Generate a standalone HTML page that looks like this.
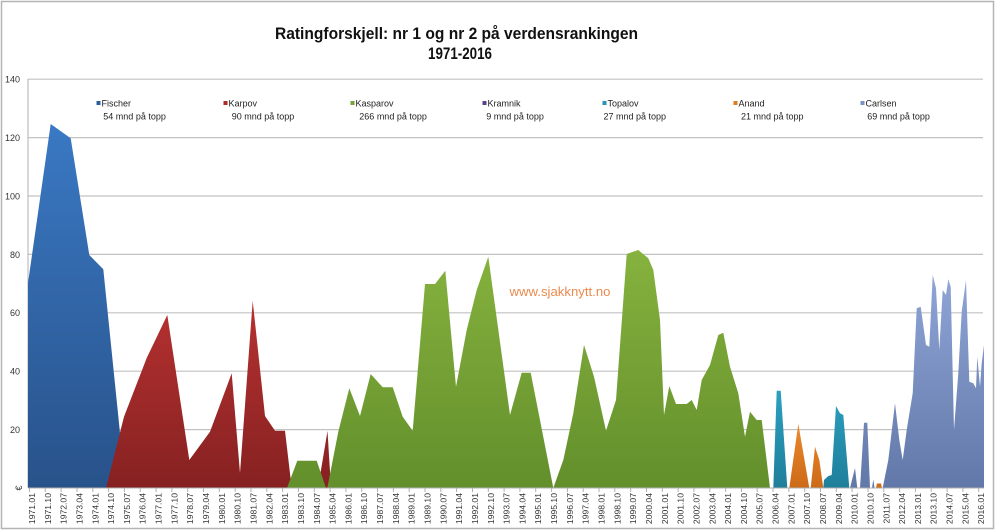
<!DOCTYPE html>
<html><head><meta charset="utf-8">
<style>
html,body{margin:0;padding:0;background:#fff;}
svg{display:block;}
text{font-family:"Liberation Sans",sans-serif;}
</style></head>
<body>
<svg width="996" height="532" viewBox="0 0 996 532" xmlns="http://www.w3.org/2000/svg">
<defs>
<linearGradient id="gB" gradientUnits="userSpaceOnUse" x1="0" y1="120" x2="0" y2="488"><stop offset="0" stop-color="#3a79c4"/><stop offset="1" stop-color="#28528a"/></linearGradient>
<linearGradient id="gR" gradientUnits="userSpaceOnUse" x1="0" y1="290" x2="0" y2="488"><stop offset="0" stop-color="#b93232"/><stop offset="1" stop-color="#862121"/></linearGradient>
<linearGradient id="gG" gradientUnits="userSpaceOnUse" x1="0" y1="250" x2="0" y2="488"><stop offset="0" stop-color="#86b23e"/><stop offset="1" stop-color="#638f2c"/></linearGradient>
<linearGradient id="gT" gradientUnits="userSpaceOnUse" x1="0" y1="390" x2="0" y2="488"><stop offset="0" stop-color="#2aa0c0"/><stop offset="1" stop-color="#1f7f9a"/></linearGradient>
<linearGradient id="gO" gradientUnits="userSpaceOnUse" x1="0" y1="420" x2="0" y2="488"><stop offset="0" stop-color="#ee8a2c"/><stop offset="1" stop-color="#cc6a18"/></linearGradient>
<linearGradient id="gC" gradientUnits="userSpaceOnUse" x1="0" y1="270" x2="0" y2="488"><stop offset="0" stop-color="#90a6d8"/><stop offset="1" stop-color="#6178a8"/></linearGradient>
</defs>
<rect x="1.5" y="1.5" width="992" height="527" fill="#fff" stroke="#b4b4b4" stroke-width="1.5"/>

<!-- title -->
<text x="456.5" y="39" font-size="16.5" font-weight="bold" text-anchor="middle" fill="#111" textLength="363" lengthAdjust="spacingAndGlyphs">Ratingforskjell: nr 1 og nr 2 på verdensrankingen</text>
<text x="460" y="59" font-size="16.5" font-weight="bold" text-anchor="middle" fill="#111" textLength="64" lengthAdjust="spacingAndGlyphs">1971-2016</text>

<!-- gridlines -->
<g stroke="#c2c2c2" stroke-width="1.2">
<line x1="28" y1="79.2" x2="983" y2="79.2"/>
<line x1="28" y1="137.6" x2="983" y2="137.6"/>
<line x1="28" y1="196" x2="983" y2="196"/>
<line x1="28" y1="254.4" x2="983" y2="254.4"/>
<line x1="28" y1="312.8" x2="983" y2="312.8"/>
<line x1="28" y1="371.2" x2="983" y2="371.2"/>
<line x1="28" y1="429.6" x2="983" y2="429.6"/>
</g>
<line x1="28" y1="79" x2="28" y2="488" stroke="#b0b0b0" stroke-width="1"/>

<!-- y labels -->
<g font-size="9" fill="#333" text-anchor="end">
<text x="20" y="82.5">140</text>
<text x="20" y="141">120</text>
<text x="20" y="199.5">100</text>
<text x="20" y="258">80</text>
<text x="20" y="316">60</text>
<text x="20" y="374.5">40</text>
<text x="20" y="433">20</text>
<text transform="translate(22,488) rotate(-90)" x="0" y="0" text-anchor="middle">€</text>
</g>

<!-- series -->
<path fill="url(#gB)" d="M28,488 L28,283 L50.7,124 L70.7,138.3 L89.3,255 L103.3,269.3 L120,433 L125,488 Z"/>
<path fill="url(#gR)" d="M106,488 L124,416.7 L146.7,358 L167.3,315 L189.3,460 L210,431.7 L231.7,373.3 L240,473 L252.7,300.7 L265,416 L275,430.7 L285,430.7 L291.7,488 Z"/>
<path fill="url(#gR)" d="M318,488 L327.5,431 L331,488 Z"/>
<path fill="url(#gG)" d="M287,488 L297.3,460.7 L316.7,460.7 L326,488 Z"/>
<path fill="url(#gG)" d="M327.3,488 L338.3,431.7 L349.3,388.3 L360,416 L370.7,374 L382.7,387.3 L392.7,387.3 L402.7,416.7 L412.7,430.7 L425,284 L435,284 L445.3,270.7 L456,386.7 L466.7,330 L476.7,290 L488.3,256.7 L510,415 L521.7,372.7 L530.7,372.7 L553.3,488 Z"/>
<path fill="url(#gG)" d="M553.3,488 L563.3,460 L573.3,413.3 L584,345 L594,376.7 L606,430.7 L616,400 L626.7,254 L638.3,250 L648.3,258.3 L653.3,270 L660,320 L664,415 L669.3,386 L676,404 L686.7,404 L691.7,400 L696.7,410 L701.7,380 L710,365 L718.3,335 L723.3,332.7 L730,366.7 L738.3,393.3 L745,436.7 L750,411.7 L756.7,420 L761.7,420 L770,488 Z"/>
<path fill="url(#gT)" d="M773.3,488 L776.7,390.7 L780.7,390.7 L787.3,488 Z"/>
<path fill="url(#gO)" d="M789.3,488 L798.3,424 L809.3,488 Z"/>
<path fill="url(#gO)" d="M810.7,488 L815,446.7 L819.3,460 L823.3,488 Z"/>
<path fill="url(#gT)" d="M823.3,488 L824,480 L828.3,476 L831.7,475 L836,406 L840,413.3 L843.3,415 L849.3,488 Z"/>
<path fill="url(#gC)" d="M850,488 L855,468 L857.3,488 Z"/>
<path fill="url(#gC)" d="M860,488 L864,422.7 L867.3,422.7 L870,488 Z"/>
<path fill="url(#gC)" d="M872,488 L873.3,479.3 L874.5,488 Z"/>
<path fill="url(#gO)" d="M876,488 L877,483.5 L881,483.5 L882,488 Z"/>
<path fill="url(#gC)" d="M882.7,488 L888.3,460 L895,403.3 L899.3,440 L902.7,460 L906.7,430 L912.7,393.3 L916.7,308.3 L920.7,306.7 L926,345 L929.3,346.7 L932.7,275 L936,288.3 L939.3,350 L942.7,290 L946,295 L948.3,279.3 L950.7,286.7 L954,430 L958.3,373.3 L961.7,311.7 L966,280 L969.3,381.7 L973.3,383.3 L976,388.3 L977.3,356.7 L980,386.7 L981.7,363.3 L984,345 L984,488 Z"/>

<!-- x axis -->
<line x1="28" y1="488" x2="984" y2="488" stroke="#b0b0b0" stroke-width="1"/>
<g stroke="#b0b0b0" stroke-width="1">
<path d="M29.5,488v4 M45.3,488v4 M61.1,488v4 M77,488v4 M92.8,488v4 M108.6,488v4 M124.4,488v4 M140.2,488v4 M156.1,488v4 M171.9,488v4 M187.7,488v4 M203.5,488v4 M219.3,488v4 M235.2,488v4 M251,488v4 M266.8,488v4 M282.6,488v4 M298.4,488v4 M314.3,488v4 M330.1,488v4 M345.9,488v4 M361.7,488v4 M377.5,488v4 M393.4,488v4 M409.2,488v4 M425,488v4 M440.8,488v4 M456.6,488v4 M472.5,488v4 M488.3,488v4 M504.1,488v4 M519.9,488v4 M535.7,488v4 M551.6,488v4 M567.4,488v4 M583.2,488v4 M599,488v4 M614.8,488v4 M630.7,488v4 M646.5,488v4 M662.3,488v4 M678.1,488v4 M693.9,488v4 M709.8,488v4 M725.6,488v4 M741.4,488v4 M757.2,488v4 M773,488v4 M788.9,488v4 M804.7,488v4 M820.5,488v4 M836.3,488v4 M852.1,488v4 M868,488v4 M883.8,488v4 M899.6,488v4 M915.4,488v4 M931.2,488v4 M947.1,488v4 M962.9,488v4 M978.7,488v4"/>
</g>
<g font-size="8.6" fill="#333" text-anchor="end">
<text transform="translate(35,493) rotate(-90)">1971.01</text>
<text transform="translate(50.8,493) rotate(-90)">1971.10</text>
<text transform="translate(66.6,493) rotate(-90)">1972.07</text>
<text transform="translate(82.5,493) rotate(-90)">1973.04</text>
<text transform="translate(98.3,493) rotate(-90)">1974.01</text>
<text transform="translate(114.1,493) rotate(-90)">1974.10</text>
<text transform="translate(129.9,493) rotate(-90)">1975.07</text>
<text transform="translate(145.7,493) rotate(-90)">1976.04</text>
<text transform="translate(161.6,493) rotate(-90)">1977.01</text>
<text transform="translate(177.4,493) rotate(-90)">1977.10</text>
<text transform="translate(193.2,493) rotate(-90)">1978.07</text>
<text transform="translate(209,493) rotate(-90)">1979.04</text>
<text transform="translate(224.8,493) rotate(-90)">1980.01</text>
<text transform="translate(240.7,493) rotate(-90)">1980.10</text>
<text transform="translate(256.5,493) rotate(-90)">1981.07</text>
<text transform="translate(272.3,493) rotate(-90)">1982.04</text>
<text transform="translate(288.1,493) rotate(-90)">1983.01</text>
<text transform="translate(303.9,493) rotate(-90)">1983.10</text>
<text transform="translate(319.8,493) rotate(-90)">1984.07</text>
<text transform="translate(335.6,493) rotate(-90)">1985.04</text>
<text transform="translate(351.4,493) rotate(-90)">1986.01</text>
<text transform="translate(367.2,493) rotate(-90)">1986.10</text>
<text transform="translate(383,493) rotate(-90)">1987.07</text>
<text transform="translate(398.9,493) rotate(-90)">1988.04</text>
<text transform="translate(414.7,493) rotate(-90)">1989.01</text>
<text transform="translate(430.5,493) rotate(-90)">1989.10</text>
<text transform="translate(446.3,493) rotate(-90)">1990.07</text>
<text transform="translate(462.1,493) rotate(-90)">1991.04</text>
<text transform="translate(478,493) rotate(-90)">1992.01</text>
<text transform="translate(493.8,493) rotate(-90)">1992.10</text>
<text transform="translate(509.6,493) rotate(-90)">1993.07</text>
<text transform="translate(525.4,493) rotate(-90)">1994.04</text>
<text transform="translate(541.2,493) rotate(-90)">1995.01</text>
<text transform="translate(557.1,493) rotate(-90)">1995.10</text>
<text transform="translate(572.9,493) rotate(-90)">1996.07</text>
<text transform="translate(588.7,493) rotate(-90)">1997.04</text>
<text transform="translate(604.5,493) rotate(-90)">1998.01</text>
<text transform="translate(620.3,493) rotate(-90)">1998.10</text>
<text transform="translate(636.2,493) rotate(-90)">1999.07</text>
<text transform="translate(652,493) rotate(-90)">2000.04</text>
<text transform="translate(667.8,493) rotate(-90)">2001.01</text>
<text transform="translate(683.6,493) rotate(-90)">2001.10</text>
<text transform="translate(699.4,493) rotate(-90)">2002.07</text>
<text transform="translate(715.3,493) rotate(-90)">2003.04</text>
<text transform="translate(731.1,493) rotate(-90)">2004.01</text>
<text transform="translate(746.9,493) rotate(-90)">2004.10</text>
<text transform="translate(762.7,493) rotate(-90)">2005.07</text>
<text transform="translate(778.5,493) rotate(-90)">2006.04</text>
<text transform="translate(794.4,493) rotate(-90)">2007.01</text>
<text transform="translate(810.2,493) rotate(-90)">2007.10</text>
<text transform="translate(826,493) rotate(-90)">2008.07</text>
<text transform="translate(841.8,493) rotate(-90)">2009.04</text>
<text transform="translate(857.6,493) rotate(-90)">2010.01</text>
<text transform="translate(873.5,493) rotate(-90)">2010.10</text>
<text transform="translate(889.3,493) rotate(-90)">2011.07</text>
<text transform="translate(905.1,493) rotate(-90)">2012.04</text>
<text transform="translate(920.9,493) rotate(-90)">2013.01</text>
<text transform="translate(936.7,493) rotate(-90)">2013.10</text>
<text transform="translate(952.6,493) rotate(-90)">2014.07</text>
<text transform="translate(968.4,493) rotate(-90)">2015.04</text>
<text transform="translate(984.2,493) rotate(-90)">2016.01</text>
</g>

<!-- watermark -->
<text x="509.5" y="296" font-size="12.5" fill="#ea8a4e" textLength="101" lengthAdjust="spacingAndGlyphs">www.sjakknytt.no</text>

<!-- legend -->
<g font-size="9" fill="#222">
<rect x="96.5" y="101" width="4" height="4" fill="#2c5fa2"/>
<text x="101.5" y="106.5">Fischer</text>
<text x="103.3" y="119.5">54 mnd på topp</text>

<rect x="223.5" y="101" width="4" height="4" fill="#b02a2a"/>
<text x="228.5" y="106.5">Karpov</text>
<text x="231.7" y="119.5">90 mnd på topp</text>

<rect x="350.5" y="101" width="4" height="4" fill="#77a33a"/>
<text x="355.5" y="106.5">Kasparov</text>
<text x="359.3" y="119.5">266 mnd på topp</text>

<rect x="482.5" y="101" width="4" height="4" fill="#5e3f8e"/>
<text x="487.5" y="106.5">Kramnik</text>
<text x="486.3" y="119.5">9 mnd på topp</text>

<rect x="602.5" y="101" width="4" height="4" fill="#2596b6"/>
<text x="607.5" y="106.5">Topalov</text>
<text x="603.5" y="119.5">27 mnd på topp</text>

<rect x="733.5" y="101" width="4" height="4" fill="#e27a22"/>
<text x="738.5" y="106.5">Anand</text>
<text x="741" y="119.5">21 mnd på topp</text>

<rect x="860.5" y="101" width="4" height="4" fill="#7c92c6"/>
<text x="865.5" y="106.5">Carlsen</text>
<text x="867.3" y="119.5">69 mnd på topp</text>
</g>
</svg>
</body></html>
